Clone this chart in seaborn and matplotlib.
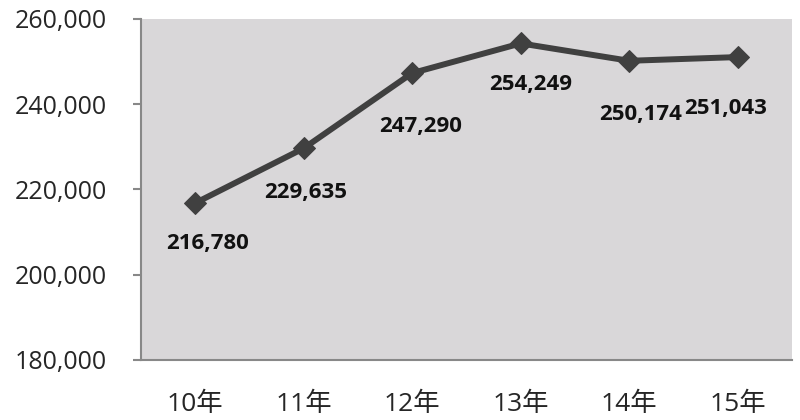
import matplotlib
matplotlib.use('Agg')
import matplotlib.pyplot as plt
import seaborn as sns
import pandas as pd
import numpy as np

# data
years = ['10年', '11年', '12年', '13年', '14年', '15年']
values = [216780, 229635, 247290, 254249, 250174, 251043]
# label offsets in pixels (x, y) relative to each point
label_dx = [12, 2, 8, 10, 11, -12]
label_dy = [-40, -44, -53, -41, -54, -51]

sns.set_style('white')
plt.rcParams['font.family'] = ['Open Sans', 'Noto Sans CJK JP', 'DejaVu Sans']

df = pd.DataFrame({'year': years, 'value': values})

fig = plt.figure(figsize=(8, 4.2), dpi=100)
ax = fig.add_axes([0.176, 0.143, 0.814, 0.812])
ax.set_facecolor('#d9d7d9')

sns.lineplot(data=df, x='year', y='value', ax=ax, color='#404040', linewidth=4.3,
             marker='D', markersize=11, markeredgecolor='#404040', sort=False)

for i, v in enumerate(values):
    ax.annotate(f'{v:,}', (i, v), xytext=(label_dx[i], label_dy[i]),
                textcoords='offset pixels', ha='center', va='center',
                fontsize=16, fontweight='bold', color='#111111',
                family=['Open Sans', 'DejaVu Sans'])

ax.set_ylim(180000, 260000)
ax.set_yticks(np.arange(180000, 260001, 20000))
ax.set_yticklabels([f'{t:,}' for t in range(180000, 260001, 20000)], fontsize=18)
ax.set_xlim(-0.5, len(years) - 0.5)
ax.set_xticks(range(len(years)))
ax.set_xticklabels(years, fontsize=19, family=['Open Sans', 'Noto Sans CJK JP'])
ax.set_xticks(np.arange(-0.5, len(years), 1), minor=True)
ax.tick_params(axis='x', which='major', length=0, pad=23)
ax.tick_params(axis='x', which='minor', length=6, width=1.5, color='#888888', direction='out')
ax.tick_params(axis='y', length=6, width=1.5, color='#888888', direction='out', left=True, pad=18.5)
ax.set_xlabel('')
ax.set_ylabel('')

for s in ['top', 'right']:
    ax.spines[s].set_visible(False)
for s in ['left', 'bottom']:
    ax.spines[s].set_color('#888888')
    ax.spines[s].set_linewidth(1.5)

fig.savefig('out.png', dpi=100)
